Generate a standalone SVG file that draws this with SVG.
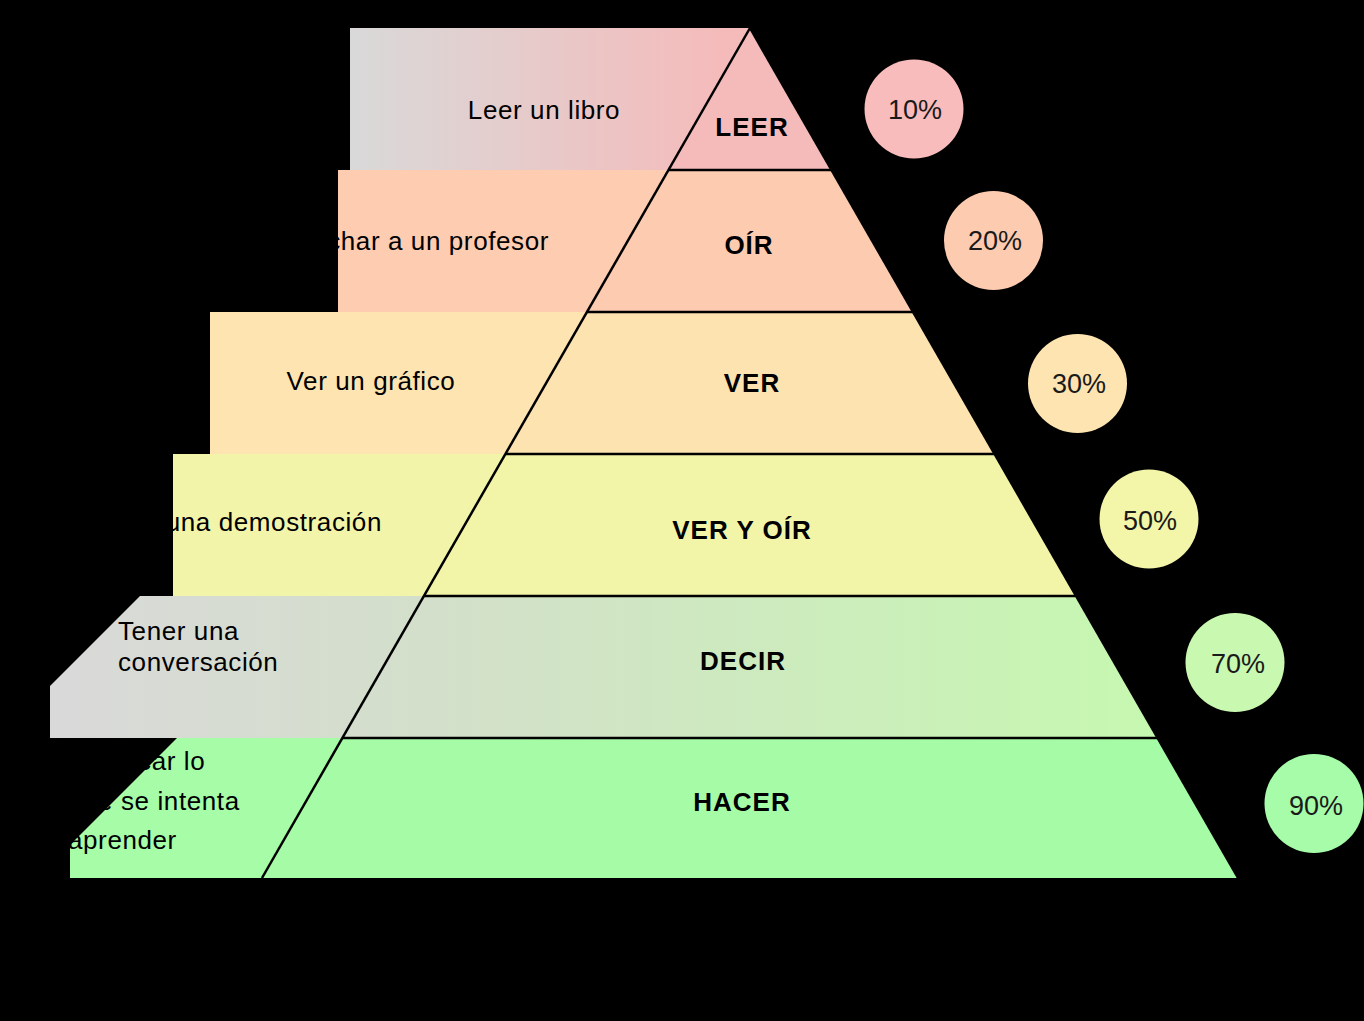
<svg xmlns="http://www.w3.org/2000/svg" width="1364" height="1021" viewBox="0 0 1364 1021">
  <defs>
    <linearGradient id="g1" gradientUnits="userSpaceOnUse" x1="350" y1="0" x2="720" y2="0">
      <stop offset="0" stop-color="#d9d9d9"/>
      <stop offset="1" stop-color="#f5bbbb"/>
    </linearGradient>
    <linearGradient id="g5" gradientUnits="userSpaceOnUse" x1="50" y1="0" x2="1158" y2="0">
      <stop offset="0" stop-color="#d9d9d9"/>
      <stop offset="0.35" stop-color="#d3dfca"/>
      <stop offset="1" stop-color="#c6f8b0"/>
    </linearGradient>
    <style>
      .desc { font-family: "Liberation Sans", Arial, sans-serif; font-size: 26px; letter-spacing: 0.6px; fill: #000; }
      .lab { font-family: "Liberation Sans", Arial, sans-serif; font-size: 26px; font-weight: bold; letter-spacing: 1px; fill: #000; text-anchor: middle; }
      .pct { font-family: "Liberation Sans", Arial, sans-serif; font-size: 27px; fill: #1a1a1a; text-anchor: middle; }
      .edge { stroke: #000; stroke-width: 2.5; fill: none; }
    </style>
  </defs>
  <rect x="0" y="0" width="1364" height="1021" fill="#000"/>

  <g id="tier-leer">
    <polygon points="350,28 750,28 668.5,170 350,170" fill="url(#g1)"/>
    <polygon points="750,28 831.5,170 668.5,170" fill="#f5bbbb"/>
  </g>
  <g id="tier-oir">
    <polygon points="338,170 668.5,170 587,312 338,312" fill="#fdccb1"/>
    <polygon points="668.5,170 831.5,170 913,312 587,312" fill="#fdcbb0"/>
  </g>
  <g id="tier-ver">
    <polygon points="210,312 587,312 505.4,454 210,454" fill="#fde4b1"/>
    <polygon points="587,312 913,312 994.6,454 505.4,454" fill="#fde3b0"/>
  </g>
  <g id="tier-ver-oir">
    <polygon points="173,454 505.4,454 424,596 173,596" fill="#f2f5a9"/>
    <polygon points="505.4,454 994.6,454 1076,596 424,596" fill="#f2f5a8"/>
  </g>
  <g id="tier-decir">
    <polygon points="140,596 424,596 342.4,738 50,738 50,686" fill="url(#g5)"/>
    <polygon points="424,596 1076,596 1157.6,738 342.4,738" fill="url(#g5)"/>
  </g>
  <g id="tier-hacer">
    <polygon points="177,738 342.4,738 262,878 70,878 70,845" fill="#a6fca7"/>
    <polygon points="342.4,738 1157.6,738 1238,878 262,878" fill="#a6fca6"/>
  </g>

  <g id="connectors">
    <line class="edge" x1="750" y1="28" x2="262" y2="878"/>
    <line class="edge" x1="750" y1="28" x2="1238" y2="878"/>
    <line class="edge" x1="668.5" y1="170" x2="831.5" y2="170"/>
    <line class="edge" x1="587" y1="312" x2="913" y2="312"/>
    <line class="edge" x1="505.4" y1="454" x2="994.6" y2="454"/>
    <line class="edge" x1="424" y1="596" x2="1076" y2="596"/>
    <line class="edge" x1="342.4" y1="738" x2="1157.6" y2="738"/>
  </g>

  <g id="texts-leer">
    <text class="desc" x="544" y="119" text-anchor="middle">Leer un libro</text>
    <text class="lab" x="752" y="136">LEER</text>
  </g>
  <g id="texts-oir">
    <text class="desc" x="549" y="250" text-anchor="end">Escuchar a un profesor</text>
    <text class="lab" x="749" y="254">OÍR</text>
  </g>
  <g id="texts-ver">
    <text class="desc" x="371" y="390" text-anchor="middle">Ver un gráfico</text>
    <text class="lab" x="752" y="392">VER</text>
  </g>
  <g id="texts-ver-oir">
    <text class="desc" x="382" y="531" text-anchor="end">Ver una demostración</text>
    <text class="lab" x="742" y="539">VER Y OÍR</text>
  </g>
  <g id="texts-decir">
    <text class="desc" x="118" y="640">Tener una</text>
    <text class="desc" x="118" y="671">conversación</text>
    <text class="lab" x="743" y="670">DECIR</text>
  </g>
  <g id="texts-hacer">
    <text class="desc" x="68" y="770">Practicar lo</text>
    <text class="desc" x="68" y="810">que se intenta</text>
    <text class="desc" x="68" y="849">aprender</text>
    <text class="lab" x="742" y="811">HACER</text>
  </g>

  <g id="circle-10">
    <circle cx="914" cy="109" r="49.5" fill="#f8bcbc"/>
    <text class="pct" x="915" y="119">10%</text>
  </g>
  <g id="circle-20">
    <circle cx="993.5" cy="240.5" r="49.5" fill="#fdccb0"/>
    <text class="pct" x="995" y="250">20%</text>
  </g>
  <g id="circle-30">
    <circle cx="1077.5" cy="383.5" r="49.5" fill="#fde4b0"/>
    <text class="pct" x="1079" y="393">30%</text>
  </g>
  <g id="circle-50">
    <circle cx="1149" cy="519" r="49.5" fill="#f3f5a8"/>
    <text class="pct" x="1150" y="530">50%</text>
  </g>
  <g id="circle-70">
    <circle cx="1235" cy="662.5" r="49.5" fill="#c9f8b0"/>
    <text class="pct" x="1238" y="673">70%</text>
  </g>
  <g id="circle-90">
    <circle cx="1314" cy="803.5" r="49.5" fill="#a6fca8"/>
    <text class="pct" x="1316" y="815">90%</text>
  </g>
</svg>
